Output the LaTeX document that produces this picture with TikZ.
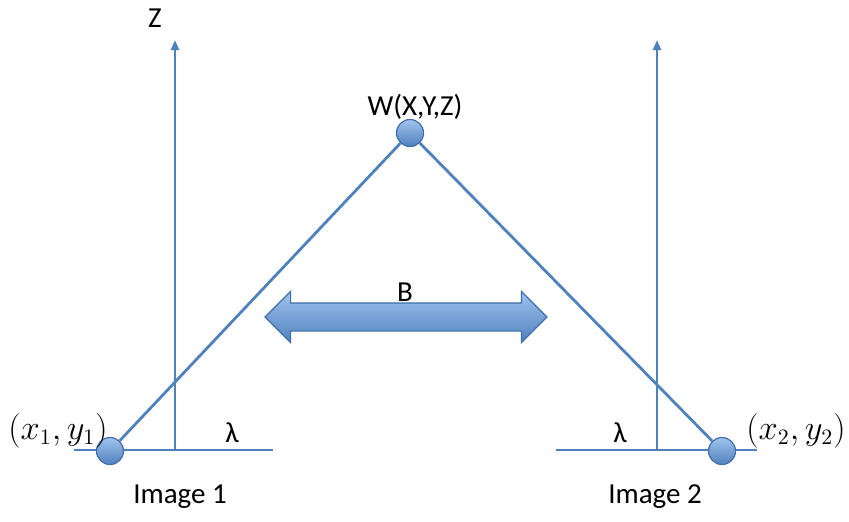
\documentclass[tikz,border=0pt]{standalone}
\usepackage{amsmath,amssymb}
\usepackage{fontspec}
\setmainfont{Carlito}
\usetikzlibrary{arrows.meta,shapes.arrows}
\definecolor{axisblue}{RGB}{79,129,189}
\definecolor{dotlight}{RGB}{160,195,238}
\definecolor{dotedge}{RGB}{65,110,170}

\begin{document}
\begin{tikzpicture}[x=0.5pt, y=-0.5pt, every node/.style={font=\fontsize{14.5}{16}\selectfont}, >={Triangle[length=5pt, width=4pt]},
	axis/.style={draw=axisblue, line width=1.4pt},
	dot/.style={circle, draw=dotedge, line width=0.6pt, top color=dotlight, bottom color=axisblue, minimum size=13.5pt, inner sep=0pt}]
	\useasboundingbox (0,0) rectangle (849,521);
	% left image plane
	\coordinate (l1) at (74,450);
	\coordinate (r1) at (273,450);
	\coordinate (o1) at (175,450);
	\coordinate (z1) at (175,40);
	\draw[axis] (l1) -- (r1);
	\draw[axis, ->] (o1) -- (z1);
	% right image plane
	\coordinate (l2) at (556,450);
	\coordinate (r2) at (757,450);
	\coordinate (o2) at (657,450);
	\coordinate (z2) at (657,40);
	\draw[axis] (l2) -- (r2);
	\draw[axis, ->] (o2) -- (z2);
	% points
	\node[dot] (p1) at (110,451) {};
	\node[dot] (w) at (410,133) {};
	\node[dot] (p2) at (722,451) {};
	\draw[axis] (p1) -- (w);
	\draw[axis] (w) -- (p2);
	% baseline
	\node[double arrow, double arrow head extend=5.75pt, minimum height=141pt, inner xsep=0pt, inner ysep=6.75pt, draw=dotedge, line width=0.6pt, top color=dotlight, bottom color=axisblue] (base) at (406,317) {};
	\node (B) at (405,292) {B};
	% labels
	\node (Z) at (155,18) {Z};
	\node (W) at (415,107) {W(X,Y,Z)};
	\node (lam1) at (232,433) {λ};
	\node (lam2) at (620,433) {λ};
	\node[font=\fontsize{16}{18}\selectfont] (c1) at (58,431) {$(x_1, y_1)$};
	\node[font=\fontsize{16}{18}\selectfont] (c2) at (796,431) {$(x_2, y_2)$};
	\node (im1) at (180,497) {Image 1};
	\node (im2) at (655,497) {Image 2};
\end{tikzpicture}
\end{document}
